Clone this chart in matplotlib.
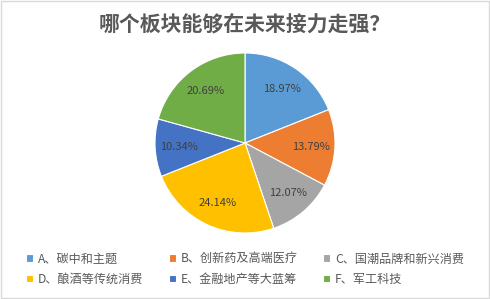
import matplotlib
matplotlib.use("Agg")
import matplotlib.pyplot as plt
from matplotlib.patches import Rectangle

plt.rcParams['font.family'] = ['Noto Sans CJK SC', 'DejaVu Sans']

title = "哪个板块能够在未来接力走强？"
categories = ["A、碳中和主题", "B、创新药及高端医疗", "C、国潮品牌和新兴消费",
              "D、酿酒等传统消费", "E、金融地产等大蓝筹", "F、军工科技"]
values = [18.97, 13.79, 12.07, 24.14, 10.34, 20.69]
colors = ["#5B9BD5", "#ED7D31", "#A5A5A5", "#FFC000", "#4472C4", "#70AD47"]

fig = plt.figure(figsize=(4.9, 2.99), dpi=100)
fig.patches.append(Rectangle((0.003, 0.003), 0.994, 0.994, transform=fig.transFigure,
                             fill=False, edgecolor="#D9D9D9", linewidth=1))

ax = fig.add_axes([(245 - 90) / 490, 1 - (143 + 90) / 299, 180 / 490, 180 / 299])
wedges, texts, autotexts = ax.pie(values, colors=colors, startangle=90, counterclock=False,
                                  autopct=lambda p: f"{p:.2f}%", pctdistance=0.73,
                                  wedgeprops=dict(edgecolor="white", linewidth=0.8),
                                  textprops=dict(fontsize=8, color="#404040"))
ax.set_aspect("equal")
ax.set_xlim(-1, 1)
ax.set_ylim(-1, 1)

fig.text(0.5, 1 - 25 / 299, title, ha="center", va="center", fontsize=15,
         fontweight="bold", color="#595959")

order = [0, 3, 1, 4, 2, 5]
leg = fig.legend([wedges[i] for i in order], [categories[i] for i in order], loc="center",
                 bbox_to_anchor=(0.5, 1 - 269 / 299), ncol=3, frameon=False, fontsize=8.7,
                 handlelength=0.6, handleheight=0.6, columnspacing=2.1, handletextpad=0.4,
                 labelspacing=0.6, labelcolor="#595959")

fig.savefig("out.png", dpi=100, facecolor="white")
